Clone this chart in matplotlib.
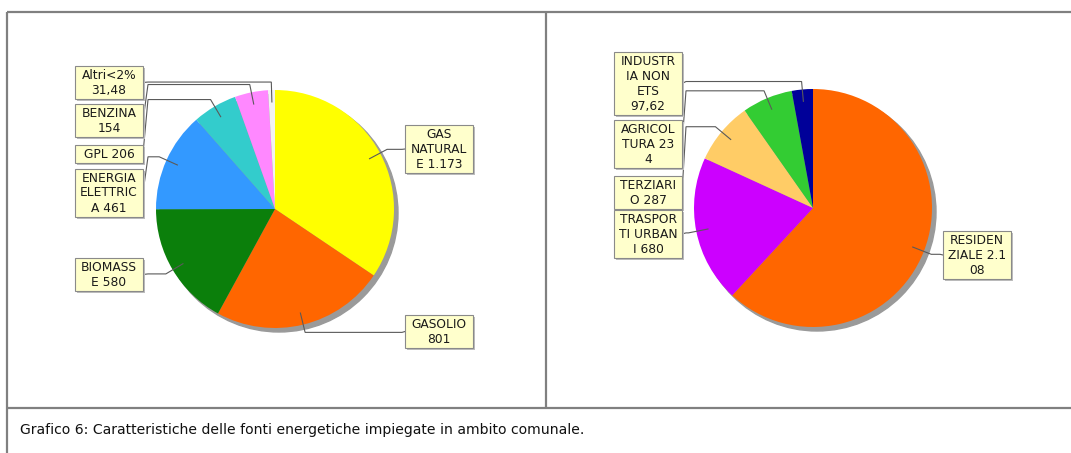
import numpy as np
import matplotlib
matplotlib.use('Agg')
import matplotlib.pyplot as plt
from matplotlib.patches import Rectangle

# Fonti energetiche (consumi, MWh)
fonti_labels = ['GAS\nNATURAL\nE 1.173', 'GASOLIO\n801', 'BIOMASS\nE 580',
                'ENERGIA\nELETTRIC\nA 461', 'GPL 206', 'BENZINA\n154', 'Altri<2%\n31,48']
fonti_values = [1173, 801, 580, 461, 206, 154, 31.48]
fonti_colors = ['#FFFF00', '#FF6600', '#0B7F0B', '#3399FF', '#33CCCC', '#FF88FF', '#F2F2F2']

# Settori
settori_labels = ['RESIDEN\nZIALE 2.1\n08', 'TRASPOR\nTI URBAN\nI 680', 'TERZIARI\nO 287',
                  'AGRICOL\nTURA 23\n4', 'INDUSTR\nIA NON\nETS\n97,62']
settori_values = [2108, 680, 287, 234, 97.62]
settori_colors = ['#FF6600', '#CC00FF', '#FFCC66', '#33CC33', '#000099']

caption = 'Grafico 6: Caratteristiche delle fonti energetiche impiegate in ambito comunale.'

W, H = 1071, 453
fig = plt.figure(figsize=(W / 100, H / 100), dpi=100)
fig.patch.set_facecolor('white')
ax = fig.add_axes([0, 0, 1, 1])

R = 119          # raggio torta
R_LINK = 127     # raggio area collegamenti
LINK_PCT = 0.9
BOX_W = 68
LINE_H = 15


def draw_pie(center, values, colors, labels, label_y, side_x):
    cx, cy = center
    # ombra
    ax.add_patch(plt.Circle((cx + 4, cy - 4), R, color='#9A9A9A', zorder=1))
    wedges, _ = ax.pie(values, colors=colors, startangle=90, counterclock=False,
                       radius=R, center=center, frame=True,
                       wedgeprops=dict(linewidth=0, zorder=2))
    for w, lab, ly in zip(wedges, labels, label_y):
        ang = np.deg2rad((w.theta1 + w.theta2) / 2)
        lx, lyk = cx + np.cos(ang) * R * LINK_PCT, cy + np.sin(ang) * R * LINK_PCT
        ex, ey = cx + np.cos(ang) * R_LINK, cy + np.sin(ang) * R_LINK
        left = np.cos(ang) < 0
        ax_x = cx - R_LINK if left else cx + R_LINK
        tx = side_x[0] if left else side_x[1]
        ty = H - ly
        ax.plot([lx, ex, ax_x, tx], [lyk, ey, ey, ty], color='#5A5A5A', lw=0.8,
                zorder=3, solid_joinstyle='miter')
        # riquadro etichetta
        n = lab.count('\n') + 1
        bh = LINE_H * n + 3
        x0 = tx - BOX_W if left else tx
        ax.add_patch(Rectangle((x0 + 2, ty - bh / 2 - 2), BOX_W, bh, fc='#BDBDBD',
                               ec='none', zorder=4))
        ax.add_patch(Rectangle((x0, ty - bh / 2), BOX_W, bh, fc='#FFFFCC',
                               ec='#8A8A8A', lw=0.8, zorder=5))
        ax.text(x0 + BOX_W / 2, ty - 0.5, lab, ha='center', va='center',
                multialignment='center', fontsize=8.8, family='DejaVu Sans',
                color='#1A1A1A', linespacing=1.2, zorder=6)


# posizioni verticali delle etichette (pixel dall'alto)
draw_pie((275, H - 209), fonti_values, fonti_colors, fonti_labels,
         [149, 331.5, 274.5, 192.5, 153.5, 120.5, 82.5], (143, 405))
draw_pie((813, H - 208), settori_values, settori_colors, settori_labels,
         [255, 234, 192.5, 144, 83.5], (682, 943))

ax.set_xlim(0, W)
ax.set_ylim(0, H)
ax.set_aspect('auto')
ax.axis('off')

# cornice della tabella
grid = dict(color='#808080', lw=1.6, solid_capstyle='butt', zorder=0)
ax.plot([7, W], [H - 12, H - 12], **grid)
ax.plot([7, 7], [H - 12, 0], **grid)
ax.plot([546, 546], [H - 12, H - 408], **grid)
ax.plot([7, W], [H - 408, H - 408], **grid)

fig.text(20 / W, 1 - 430 / H, caption, fontsize=10.1, family='DejaVu Sans',
         color='#111111', va='center', ha='left')

fig.savefig('out.png', dpi=100, facecolor='white')
